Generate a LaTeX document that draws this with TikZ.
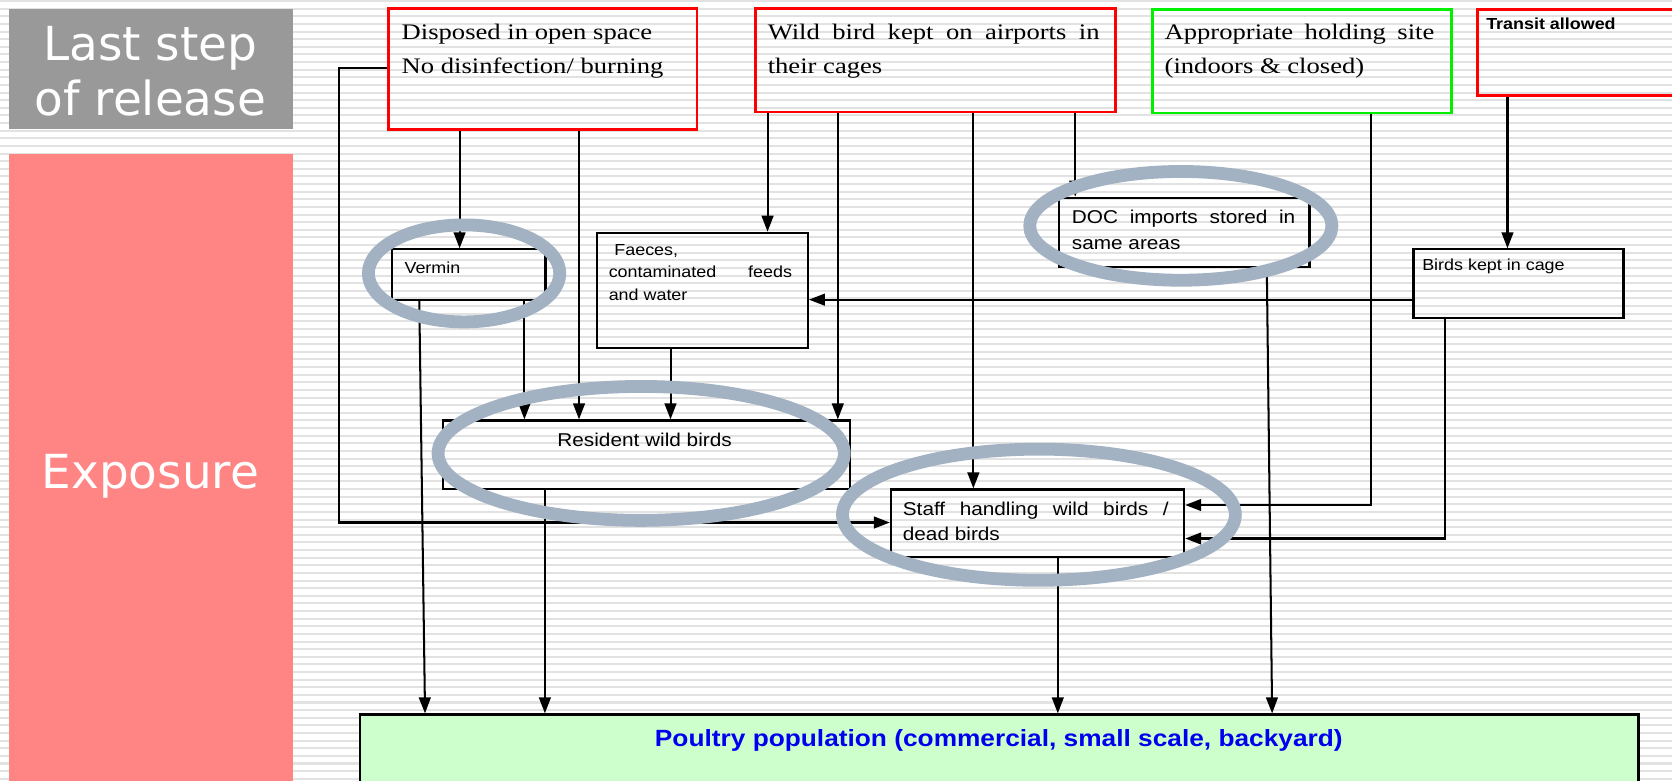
\documentclass[tikz,border=0pt]{standalone}
\usepackage{fontspec}
\usetikzlibrary{arrows.meta,shapes.geometric}

\newfontfamily\serifbox[FakeStretch=1.2]{Liberation Serif}
\newfontfamily\sansbox[FakeStretch=1.12]{Liberation Sans}
\newfontfamily\labelfont{DejaVu Sans}

\definecolor{stripegray}{RGB}{226,226,226}
\definecolor{panelgray}{RGB}{153,153,153}
\definecolor{panelpink}{RGB}{255,132,132}
\definecolor{ringblue}{RGB}{162,178,194}
\definecolor{boxred}{RGB}{255,0,0}
\definecolor{boxgreen}{RGB}{0,240,0}
\definecolor{poultryfill}{RGB}{204,255,204}
\definecolor{poultryblue}{RGB}{0,0,238}

\tikzset{
  stripe/.style={draw=stripegray, line width=1.9pt},
  panel/.style={anchor=north west, inner sep=0pt, draw=none},
  redbox/.style={draw=boxred, line width=2.6pt, anchor=north west, inner sep=0pt},
  greenbox/.style={draw=boxgreen, line width=2.6pt, anchor=north west, inner sep=0pt},
  blackbox/.style={draw=black, line width=2pt, anchor=north west, inner sep=0pt},
  txt/.style={anchor=base west, inner sep=0pt},
  sidelabel/.style={anchor=base, inner sep=0pt, text=white, font=\labelfont\fontsize{44}{52}\selectfont},
  serif/.style={txt, font=\serifbox\fontsize{20.8}{31}\selectfont},
  smallsans/.style={txt, font=\sansbox\fontsize{15}{17}\selectfont},
  midsans/.style={txt, font=\sansbox\fontsize{17.4}{20}\selectfont},
  arr/.style={line width=1.9pt, -{Triangle[length=15pt,width=11pt]}},
  ring/.style={ellipse, draw=ringblue, line width=12pt, inner sep=0pt},
}

\begin{document}
\begin{tikzpicture}[x=1pt,y=-1pt]
\useasboundingbox (0,0) rectangle (1568,732);
\clip (0,0) rectangle (1568,732);

% striped backdrop
\fill[white] (0,0) rectangle (1568,732);
\foreach \i in {0,...,103} {
  \draw[stripe] (0,{\i*7.15+1}) -- (1568,{\i*7.15+1});
}

% side panels
\node[panel, fill=panelgray, minimum width=266pt, minimum height=112pt] (lastpanel) at (8.4,8.4) {};
\node[panel, fill=panelpink, minimum width=266pt, minimum height=600pt] (exppanel) at (8.4,144.5) {};
\node[sidelabel] (lastA) at (141,56.3) {Last step};
\node[sidelabel] (lastB) at (141,107.9) {of release};
\node[sidelabel] (exposure) at (141,458) {Exposure};

% top row of release steps
\node[redbox, minimum width=289.4pt, minimum height=113.1pt] (disp) at (363,6.9) {};
\node[redbox, minimum width=338pt, minimum height=96.9pt] (wild) at (707,6.9) {};
\node[greenbox, minimum width=279.8pt, minimum height=96.9pt] (appr) at (1079.8,7.8) {};
\node[redbox, minimum width=200pt, minimum height=80.4pt] (trans) at (1384,7.8) {};

\node[serif] (dispA) at (376.5,37.5) {Disposed in open space};
\node[serif] (dispB) at (376.5,68.8) {No disinfection/ burning};
\node[serif] (wildA) at (719.8,37.5) {\makebox[311.2pt][s]{Wild bird kept on airports in}};
\node[serif] (wildB) at (719.8,68.8) {their cages};
\node[serif] (apprA) at (1092,37.5) {\makebox[253pt][s]{Appropriate holding site}};
\node[serif] (apprB) at (1092,68.8) {(indoors \& closed)};
\node[smallsans, font=\sansbox\bfseries\fontsize{15}{17}\selectfont] (transT) at (1393.6,28.1) {Transit allowed};

% exposure pathways
\node[blackbox, minimum width=143.8pt, minimum height=47.5pt] (verm) at (366.7,232.9) {};
\node[blackbox, minimum width=197.6pt, minimum height=108.4pt] (faec) at (559,217.3) {};
\node[blackbox, minimum width=234.5pt, minimum height=65.1pt] (doc) at (992.5,184.4) {};
\node[blackbox, minimum width=197pt, minimum height=64.1pt] (birds) at (1324.5,232.9) {};
\node[blackbox, minimum width=381.3pt, minimum height=64.1pt] (resid) at (414.5,393.3) {};
\node[blackbox, minimum width=275pt, minimum height=63.4pt] (staff) at (834.5,458) {};
\node[blackbox, fill=poultryfill, minimum width=1199.2pt, minimum height=100pt] (poultry) at (336.4,669) {};

\node[smallsans] (vermT) at (379.2,256.3) {Vermin};
\node[smallsans] (faecA) at (576,240) {Faeces,};
\node[smallsans] (faecB) at (570.7,260) {\makebox[171.9pt][s]{contaminated feeds}};
\node[smallsans] (faecC) at (570.7,281.4) {and water};
\node[midsans] (docA) at (1005,210) {\makebox[209.5pt][s]{DOC imports stored in}};
\node[midsans] (docB) at (1005,233.8) {same areas};
\node[smallsans] (birdsT) at (1333.6,253.8) {Birds kept in cage};
\node[midsans, anchor=base] (residT) at (604.5,418.9) {Resident wild birds};
\node[midsans] (staffA) at (846.5,483) {\makebox[249.2pt][s]{Staff handling wild birds /}};
\node[midsans] (staffB) at (846.5,506.4) {dead birds};
\node[anchor=base, inner sep=0pt, text=poultryblue, font=\sansbox\bfseries\fontsize{22}{25}\selectfont] (poultryT) at (936.7,700.2) {Poultry population (commercial, small scale, backyard)};

% connector columns and rows
\coordinate (xV1) at (431,0);
\coordinate (xV2) at (543,0);
\coordinate (xL) at (318,0);
\coordinate (yL1) at (0,64);
\coordinate (yL2) at (0,490);
\coordinate (xW1) at (719.8,0);
\coordinate (xW2) at (785.7,0);
\coordinate (xW3) at (912.8,0);
\coordinate (xW4) at (1008.3,0);
\coordinate (xA) at (1286,0);
\coordinate (yA) at (0,473.6);
\coordinate (xT) at (1413.7,0);
\coordinate (yB) at (0,281);
\coordinate (xB) at (1354.7,0);
\coordinate (yB2) at (0,505);
\coordinate (xM1a) at (393.2,0);
\coordinate (xM1b) at (398.6,0);
\coordinate (xM2) at (491.8,0);
\coordinate (xF) at (628.8,0);
\coordinate (xR) at (511,0);
\coordinate (xS) at (992,0);
\coordinate (xDa) at (1188,0);
\coordinate (xDb) at (1193,0);

% connectors
\draw[arr] (disp.south -| xV1) -- (verm.north -| xV1);
\draw[arr] (disp.south -| xV2) -- (resid.north -| xV2);
\draw[arr] (disp.west |- yL1) -- (xL |- yL1) -- (xL |- yL2) -- (staff.west |- yL2);
\draw[arr] (wild.south -| xW1) -- (faec.north -| xW1);
\draw[arr] (wild.south -| xW2) -- (resid.north -| xW2);
\draw[arr] (wild.south -| xW3) -- (staff.north -| xW3);
\draw[arr] (wild.south -| xW4) -- (doc.north -| xW4);
\draw[arr] (appr.south -| xA) -- (xA |- yA) -- (staff.east |- yA);
\draw[arr] (trans.south -| xT) -- (birds.north -| xT);
\draw[arr] (birds.west |- yB) -- (faec.east |- yB);
\draw[arr] (birds.south -| xB) -- (xB |- yB2) -- (staff.east |- yB2);
\draw[arr] (verm.south -| xM1a) -- (poultry.north -| xM1b);
\draw[arr] (verm.south -| xM2) -- (resid.north -| xM2);
\draw[arr] (faec.south -| xF) -- (resid.north -| xF);
\draw[arr] (resid.south -| xR) -- (poultry.north -| xR);
\draw[arr] (staff.south -| xS) -- (poultry.north -| xS);
\draw[arr] (doc.south -| xDa) -- (poultry.north -| xDb);

% highlight rings
\node[ring, minimum width=179.5pt, minimum height=91pt] (ringVermin) at (435.2,256.4) {};
\node[ring, minimum width=283.4pt, minimum height=102pt] (ringDoc) at (1107.4,211.8) {};
\node[ring, minimum width=381pt, minimum height=125.6pt] (ringResident) at (601.3,425.2) {};
\node[ring, minimum width=368.4pt, minimum height=123pt] (ringStaff) at (974.3,482.7) {};
\end{tikzpicture}
\end{document}
